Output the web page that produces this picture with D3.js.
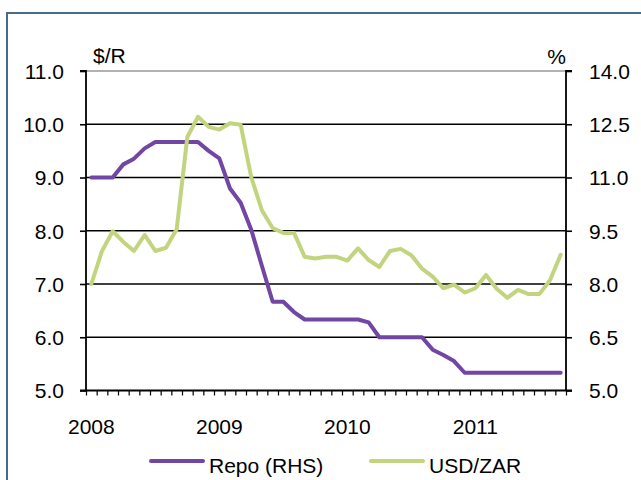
<!DOCTYPE html>
<html>
<head>
<meta charset="utf-8">
<script src="https://cdn.jsdelivr.net/npm/d3@7/dist/d3.min.js"></script>
<style>
  html, body { margin: 0; padding: 0; background: #fff; }
  svg { display: block; font-family: "Liberation Sans", Arial, sans-serif; }
</style>
</head>
<body>
<svg id="chart" width="641" height="480"></svg>
<script>
// Monthly observations, Jan 2008 – Sep 2011
const months = [
  "2008-01","2008-02","2008-03","2008-04","2008-05","2008-06","2008-07","2008-08","2008-09","2008-10","2008-11","2008-12",
  "2009-01","2009-02","2009-03","2009-04","2009-05","2009-06","2009-07","2009-08","2009-09","2009-10","2009-11","2009-12",
  "2010-01","2010-02","2010-03","2010-04","2010-05","2010-06","2010-07","2010-08","2010-09","2010-10","2010-11","2010-12",
  "2011-01","2011-02","2011-03","2011-04","2011-05","2011-06","2011-07","2011-08","2011-09"
];

// Rand per US dollar (left axis)
const usdzar = [
  7.00, 7.62, 7.99, 7.79, 7.62, 7.92, 7.62, 7.68, 8.03, 9.76, 10.14, 9.95,
  9.90, 10.02, 9.99, 9.00, 8.38, 8.05, 7.96, 7.96, 7.51, 7.48, 7.51, 7.51,
  7.44, 7.67, 7.45, 7.32, 7.62, 7.66, 7.54, 7.29, 7.14, 6.92, 6.99, 6.84,
  6.92, 7.17, 6.91, 6.74, 6.89, 6.81, 6.81, 7.07, 7.55
];

// Repo rate, % (right axis)
const repo = [
  11.0, 11.0, 11.0, 11.37, 11.53, 11.82, 12.0, 12.0, 12.0, 12.0, 12.0, 11.75,
  11.54, 10.69, 10.29, 9.52, 8.5, 7.5, 7.5, 7.21, 7.0, 7.0, 7.0, 7.0,
  7.0, 7.0, 6.92, 6.5, 6.5, 6.5, 6.5, 6.5, 6.15, 6.0, 5.83, 5.5,
  5.5, 5.5, 5.5, 5.5, 5.5, 5.5, 5.5, 5.5, 5.5
];

const leftTicks = [5, 6, 7, 8, 9, 10, 11];
const rightTicks = [5, 6.5, 8, 9.5, 11, 12.5, 14];
const yearLabels = { "2008-01": "2008", "2009-01": "2009", "2010-01": "2010", "2011-01": "2011" };

const seriesNames = ["Repo (RHS)", "USD/ZAR"];
const colors = { repo: "#7246a3", usdzar: "#c3d47e" };

const svg = d3.select("#chart");
const plot = { left: 86, right: 566, top: 71, bottom: 390.5 };

// Outer frame (top and left edges visible)
svg.append("path")
  .attr("d", `M7,700 L7,13 L700,13`)
  .attr("fill", "none")
  .attr("stroke", "#4b6a8b")
  .attr("stroke-width", 2);

const x = d3.scaleBand().domain(months).range([plot.left, plot.right]).padding(0);
const xIdx = d3.scaleLinear().domain([0, months.length]).range([plot.left, plot.right]);
const yL = d3.scaleLinear().domain([5, 11]).range([plot.bottom, plot.top]);
const yR = d3.scaleLinear().domain([5, 14]).range([plot.bottom, plot.top]);

// Horizontal gridlines
svg.append("g")
  .selectAll("line")
  .data(leftTicks.filter(d => d > 5))
  .join("line")
  .attr("x1", plot.left).attr("x2", plot.right)
  .attr("y1", d => yL(d)).attr("y2", d => yL(d))
  .attr("stroke", d => d === 11 ? "#999" : "#000")
  .attr("stroke-width", 1.6);

// Left axis
const gL = svg.append("g")
  .attr("transform", `translate(${plot.left},0)`)
  .call(d3.axisLeft(yL).tickValues(leftTicks).tickSize(6).tickPadding(16).tickFormat(d3.format(".1f")));
gL.select(".domain").attr("stroke", "#000").attr("stroke-width", 1.8).attr("d", `M-6,${plot.top}H0V${plot.bottom}`);
gL.selectAll(".tick line").attr("stroke", "#000").attr("stroke-width", 1.6);
gL.selectAll("text").attr("font-size", 21).attr("fill", "#000").attr("dy", "0.35em");

// Right axis
const gR = svg.append("g")
  .attr("transform", `translate(${plot.right},0)`)
  .call(d3.axisRight(yR).tickValues(rightTicks).tickSize(6).tickPadding(17).tickFormat(d3.format(".1f")));
gR.select(".domain").attr("stroke", "#000").attr("stroke-width", 1.8).attr("d", `M6,${plot.top}H0V${plot.bottom}`);
gR.selectAll(".tick line").attr("stroke", "#000").attr("stroke-width", 1.6);
gR.selectAll("text").attr("font-size", 21).attr("fill", "#000").attr("dy", "0.35em");

// Bottom axis: monthly tick marks between categories
const gB = svg.append("g")
  .attr("transform", `translate(0,${plot.bottom})`)
  .call(d3.axisBottom(xIdx).tickValues(d3.range(0, months.length + 1)).tickSize(5).tickFormat(""));
gB.select(".domain").attr("stroke", "#000").attr("stroke-width", 1.8).attr("d", `M${plot.left - 6},0H${plot.right + 6}`);
gB.selectAll(".tick line").attr("stroke", "#000").attr("stroke-width", 1.2);

// Year labels centred on January categories
const gY = svg.append("g")
  .attr("transform", `translate(0,${plot.bottom})`)
  .call(d3.axisBottom(x).tickValues(Object.keys(yearLabels)).tickSize(0).tickPadding(29)
    .tickFormat(d => yearLabels[d]));
gY.select(".domain").remove();
gY.selectAll("text").attr("font-size", 21).attr("fill", "#000");

// Axis unit captions
svg.append("text").attr("x", 93).attr("y", 63).attr("font-size", 21).text("$/R");
svg.append("text").attr("x", 566).attr("y", 64).attr("font-size", 21).attr("text-anchor", "end").text("%");

// Series lines
const cx = d => x(d) + x.bandwidth() / 2;
const lineL = d3.line().x((d, i) => cx(months[i])).y(d => yL(d));
const lineR = d3.line().x((d, i) => cx(months[i])).y(d => yR(d));

svg.append("path")
  .datum(repo)
  .attr("d", lineR)
  .attr("fill", "none")
  .attr("stroke", colors.repo)
  .attr("stroke-width", 4)
  .attr("stroke-linejoin", "round")
  .attr("stroke-linecap", "round");

svg.append("path")
  .datum(usdzar)
  .attr("d", lineL)
  .attr("fill", "none")
  .attr("stroke", colors.usdzar)
  .attr("stroke-width", 4)
  .attr("stroke-linejoin", "round")
  .attr("stroke-linecap", "round");

// Legend
const legend = [
  { name: seriesNames[0], color: colors.repo, x: 151 },
  { name: seriesNames[1], color: colors.usdzar, x: 371 }
];
const lg = svg.append("g");
legend.forEach(l => {
  lg.append("line")
    .attr("x1", l.x).attr("x2", l.x + 52)
    .attr("y1", 461).attr("y2", 461)
    .attr("stroke", l.color).attr("stroke-width", 4).attr("stroke-linecap", "round");
  lg.append("text")
    .attr("x", l.x + 58).attr("y", 472.5)
    .attr("font-size", 21).attr("fill", "#000")
    .text(l.name);
});
</script>
</body>
</html>
